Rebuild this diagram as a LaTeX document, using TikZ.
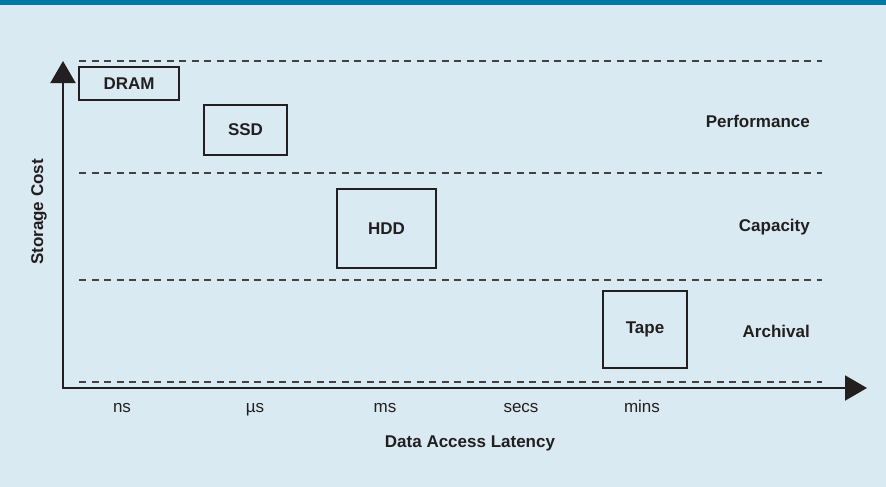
\documentclass[tikz,border=0pt]{standalone}
\usepackage{fontspec}
\setmainfont{Liberation Sans}
\usetikzlibrary{arrows.meta}
\definecolor{bg}{HTML}{DAEAF3}
\definecolor{bar}{HTML}{0079A8}
\definecolor{ink}{HTML}{231F20}
\begin{document}
\begin{tikzpicture}[x=1pt,y=-1pt,
  tier/.style={draw=ink, line width=1.2pt, text=ink, inner sep=0pt,
    font=\fontsize{17}{20}\selectfont\bfseries},
  lbl/.style={font=\fontsize{17}{20}\selectfont\bfseries, text=ink, inner sep=0pt},
  tick/.style={font=\fontsize{17}{20}\selectfont, text=ink, inner sep=0pt},
  sep/.style={draw=ink!85, line width=1.2pt, dash pattern=on 7pt off 5.5pt},
  axis/.style={draw=ink, line width=2pt, line join=miter,
    {Triangle[length=22pt,width=25pt]}-{Triangle[length=22pt,width=25pt]}}]
\useasboundingbox (0,0) rectangle (886,487);
\fill[bg] (0,0) rectangle (886,487);
\fill[bar] (0,0) rectangle (886,5);

% separators
\coordinate (s1l) at (79,61);  \coordinate (s1r) at (822,61);
\coordinate (s2l) at (79,173); \coordinate (s2r) at (822,173);
\coordinate (s3l) at (79,280); \coordinate (s3r) at (822,280);
\coordinate (s4l) at (79,382); \coordinate (s4r) at (822,382);
\draw[sep] (s1l) -- (s1r);
\draw[sep] (s2l) -- (s2r);
\draw[sep] (s3l) -- (s3r);
\draw[sep] (s4l) -- (s4r);

% axes
\coordinate (ytip) at (63,61);
\coordinate (orig) at (63,388);
\coordinate (xtip) at (867,388);
\draw[axis] (ytip) -- (orig) -- (xtip);

% tiers
\node[tier, minimum width=100pt, minimum height=33pt] (dram) at (129,83.5) {DRAM};
\node[tier, minimum width=83pt, minimum height=50pt] (ssd) at (245.5,130) {SSD};
\node[tier, minimum width=99pt, minimum height=79pt] (hdd) at (386.5,228.5) {HDD};
\node[tier, minimum width=84pt, minimum height=77pt] (tape) at (645,329.5) {Tape};

% band labels
\node[lbl, anchor=base east] (perf) at (810,127.5) {Performance};
\node[lbl, anchor=base east] (cap) at (810,231) {Capacity};
\node[lbl, anchor=base east] (arch) at (810,337.5) {Archival};

% x ticks
\node[tick, anchor=base] (ns) at (122,412) {ns};
\node[tick, anchor=base] (us) at (255,412) {µs};
\node[tick, anchor=base] (ms) at (385,412) {ms};
\node[tick, anchor=base] (secs) at (521,412) {secs};
\node[tick, anchor=base] (mins) at (642,412) {mins};

% axis titles
\node[lbl, anchor=base] (xt) at (470,447) {Data Access Latency};
\node[lbl, rotate=90] (yt) at (39,212) {Storage Cost};
\end{tikzpicture}
\end{document}
